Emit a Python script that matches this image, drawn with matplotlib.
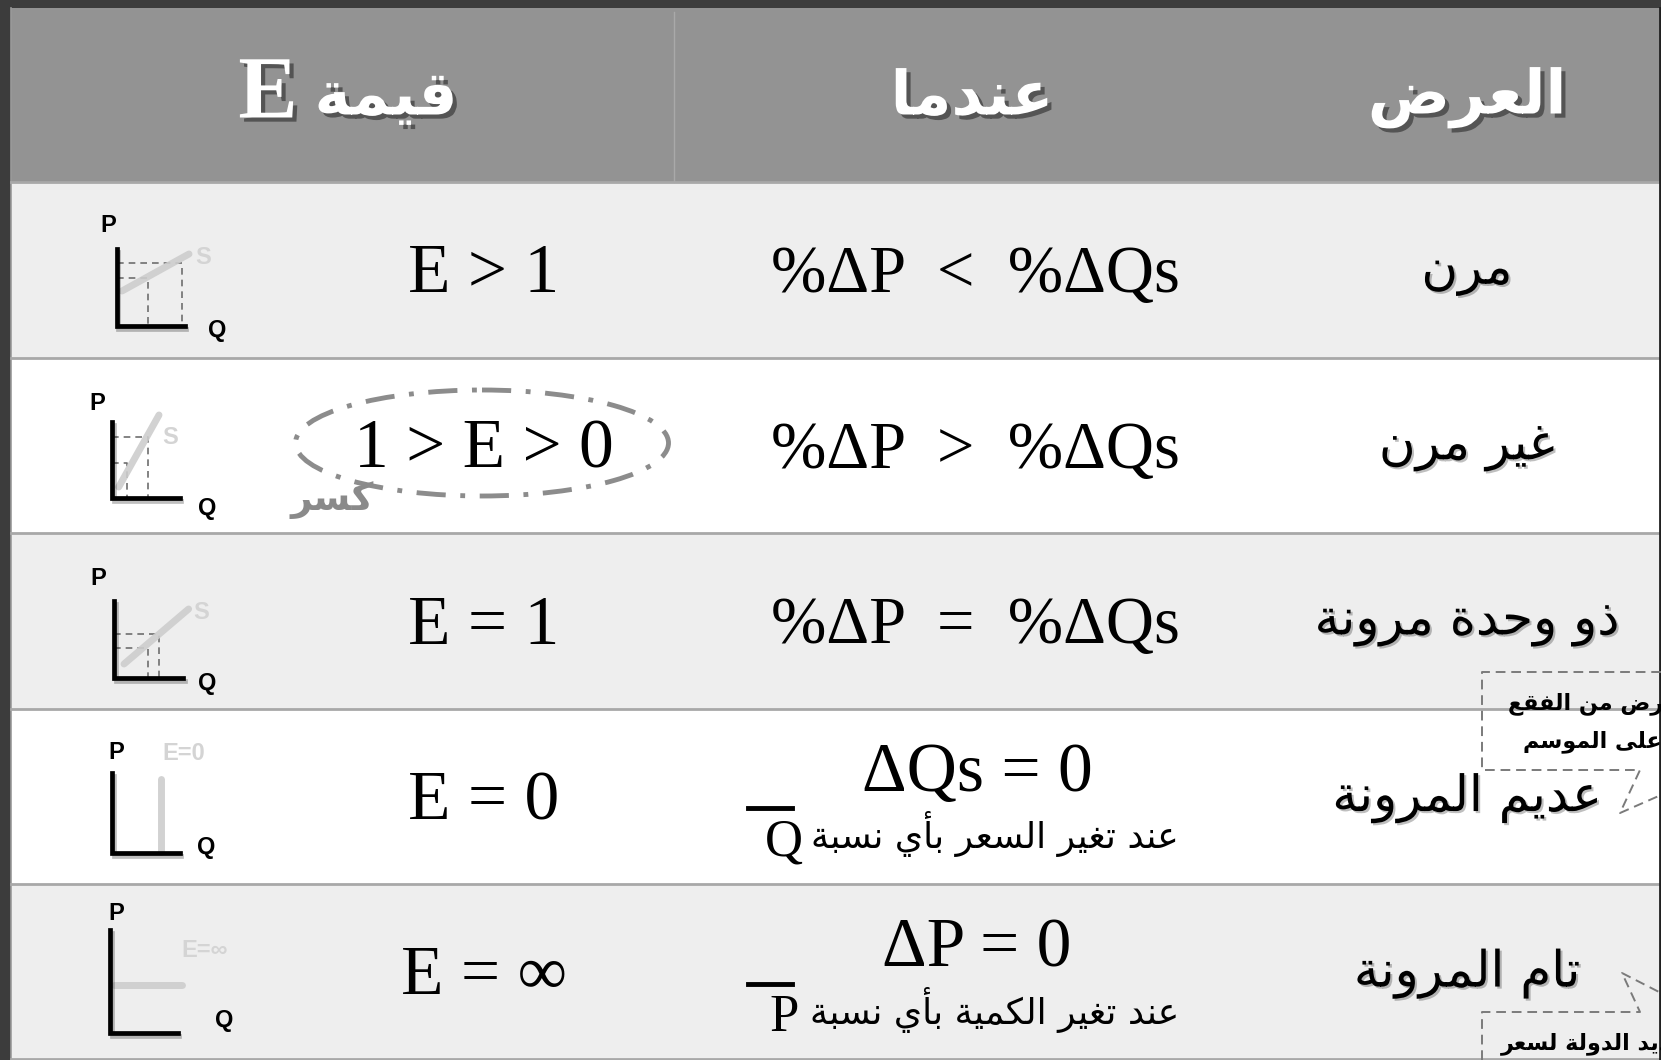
import re

import matplotlib.pyplot as plt
import matplotlib.patheffects as pe
from matplotlib.patches import Rectangle, Ellipse

# ---- data -------------------------------------------------------------
header_supply = "العرض"
header_when = "عندما"
header_value = "قيمة"
header_value_symbol = "E"

supply_types = ["مرن", "غير مرن", "ذو وحدة مرونة", "عديم المرونة", "تام المرونة"]
conditions = ["%ΔP  <  %ΔQs", "%ΔP  >  %ΔQs", "%ΔP  =  %ΔQs", "ΔQs = 0", "ΔP = 0"]
condition_notes = [None, None, None, "عند تغير السعر بأي نسبة", "عند تغير الكمية بأي نسبة"]
note_symbols = [None, None, None, "Q", "P"]
e_values = ["E > 1", "1 > E > 0", "E = 1", "E = 0", "E = ∞"]
icon_kinds = ["elastic", "inelastic", "unit", "zero", "infinite"]
fraction_label = "كسر"
callout_top = ["العرض من الفقع", "يعتمد على الموسم"]
callout_bottom = "تحديد الدولة لسعر"

# ---- tiny arabic shaper (matplotlib has no bidi / joining) -----------
AR_LETTERS = "ءآأؤإئابةتثجحخدذرزسشصضطظعغفقكلمنهوىي"
FORM_COUNT = [1, 2, 2, 2, 2, 4, 2, 4, 2, 4, 4, 4, 4, 4, 2, 2, 2, 2,
              4, 4, 4, 4, 4, 4, 4, 4, 4, 4, 4, 4, 4, 4, 4, 2, 2, 4]
FORMS = {}
_code = 0xFE80
for _ch, _n in zip(AR_LETTERS, FORM_COUNT):
    FORMS[_ch] = (_code, _n)
    _code += _n


def ar(text):
    out = []
    for i, ch in enumerate(text):
        if ch not in FORMS:
            out.append(ch)
            continue
        base, n = FORMS[ch]
        prev = text[i - 1] if i > 0 else ""
        nxt = text[i + 1] if i + 1 < len(text) else ""
        join_prev = prev in FORMS and FORMS[prev][1] == 4
        join_next = n == 4 and nxt in FORMS
        if n == 1:
            idx = 0
        elif join_prev and join_next:
            idx = 3
        elif join_prev:
            idx = 1
        elif join_next:
            idx = 2
        else:
            idx = 0
        out.append(chr(base + idx))
    visual = "".join(out)[::-1]
    return re.sub(r"[A-Za-z0-9%=<>Δ.]+", lambda m: m.group(0)[::-1], visual)


# ---- layout -------------------------------------------------------------
W, H = 1661, 1060
fig = plt.figure(figsize=(W / 100, H / 100), dpi=100, facecolor="#3c3c3c")
ax = fig.add_axes([0, 0, 1, 1])
ax.set_xlim(0, W)
ax.set_ylim(H, 0)
ax.axis("off")

left = 10.5
top = 8
header_h = 174
row_h = 175.5
col_e = 484
col_cond = 975
col_type = 1467

serif = ["Liberation Serif", "DejaVu Sans"]
arabic = ["DejaVu Sans"]
sans = ["Liberation Sans"]
shadow_w = [pe.withSimplePatchShadow(offset=(3, -3), shadow_rgbFace="#2a2a2a", alpha=0.6)]
shadow_b = [pe.withSimplePatchShadow(offset=(1.5, -1.5), shadow_rgbFace="#000000", alpha=0.25)]

# header
ax.add_patch(Rectangle((left, top), W - left, header_h, facecolor="#939393", edgecolor="none"))
ax.plot([674, 674], [top + 4, top + header_h], color="#a9a9a9", lw=1)
ax.plot([left, left], [top, H], color="#9a9a9a", lw=1.2)
hy = top + header_h / 2 + 3
ax.text(col_type, hy, ar(header_supply), ha="center", va="center", fontsize=44,
        fontweight="bold", family=arabic, color="white", path_effects=shadow_w)
ax.text(col_cond - 3, hy, ar(header_when), ha="center", va="center", fontsize=44,
        fontweight="bold", family=arabic, color="white", path_effects=shadow_w)
ax.text(386, hy, ar(header_value), ha="center", va="center", fontsize=44,
        fontweight="bold", family=arabic, color="white", path_effects=shadow_w)
ax.text(268, hy - 2, header_value_symbol, ha="center", va="center", fontsize=64,
        fontweight="bold", family=serif, color="white", path_effects=shadow_w)

# body rows
for i in range(len(supply_types)):
    y0 = top + header_h + i * row_h
    yc = y0 + row_h / 2
    face = "#eeeeee" if i % 2 == 0 else "#ffffff"
    ax.add_patch(Rectangle((left, y0), W - left, row_h, facecolor=face, edgecolor="none"))
    ax.plot([left, W], [y0, y0], color="#a8a8a8", lw=2)

    ax.text(col_type, yc + 2, ar(supply_types[i]), ha="center", va="center", fontsize=36,
            family=arabic, color="black", path_effects=shadow_b)
    ax.text(col_e, yc + 6, e_values[i], ha="center", va="center", fontsize=50,
            family=serif, color="black")

    if condition_notes[i] is None:
        ax.text(col_cond, yc + 6, conditions[i], ha="center", va="center", fontsize=48,
                family=serif, color="black")
    else:
        ax.text(col_cond + 2, yc - 22, conditions[i], ha="center", va="center", fontsize=50,
                family=serif, color="black")
        ax.text(1179, yc + 38, ar(condition_notes[i]), ha="right", va="center", fontsize=26,
                family=arabic, color="black")
        # symbol with a bar over it (Q̄ / P̄)
        ax.text(784, yc + 46, note_symbols[i], ha="center", va="center", fontsize=38,
                family=serif, color="black")
        ax.plot([748, 792], [yc + 12, yc + 12], color="black", lw=3.5)

ax.plot([left, W], [H - 1, H - 1], color="#a8a8a8", lw=2)
ax.plot([W - 1.5, W - 1.5], [top, H], color="#202020", lw=2)


# ---- small supply diagrams ----------------------------------------------
def axes_l(cx, cy, ytop, xend, p_xy, q_xy):
    ax.plot([cx, cx, xend], [ytop, cy, cy], color="black", lw=3.4,
            solid_joinstyle="miter",
            path_effects=[pe.SimpleLineShadow(offset=(1, -2), alpha=0.25), pe.Normal()])
    ax.text(*p_xy, "P", ha="center", va="center", fontsize=17, fontweight="bold",
            family=sans, color="black")
    ax.text(*q_xy, "Q", ha="center", va="center", fontsize=17, fontweight="bold",
            family=sans, color="black")


def dashed(xs, ys):
    ax.plot(xs, ys, color="#6e6e6e", lw=1.2, ls=(0, (4, 3)))


def supply(xs, ys, label_xy=None, label="S"):
    ax.plot(xs, ys, color="#cdcdcd", lw=5, solid_capstyle="round", alpha=0.9)
    if label_xy is not None:
        ax.text(*label_xy, label, ha="center", va="center", fontsize=17, fontweight="bold",
                family=sans, color="#d4d4d4")


def draw_icon(kind):
    if kind == "elastic":
        dashed([116.5, 182, 182], [263, 263, 326])
        dashed([116.5, 148, 148], [278, 278, 326])
        supply([122, 189], [291, 254], (203, 257))
        axes_l(116.5, 326, 249, 185, (108, 225), (217, 331))
    elif kind == "inelastic":
        dashed([112.3, 148, 148], [437, 437, 498])
        dashed([112.3, 127, 127], [463, 463, 498])
        supply([118.7, 159], [487, 415], (170, 438))
        axes_l(112.3, 498, 422, 180, (97.5, 403), (207.6, 508.5))
    elif kind == "unit":
        dashed([114.4, 159, 159], [633.5, 633.5, 678])
        dashed([114.4, 148, 148], [648.4, 648.4, 678])
        supply([124, 188.6], [664, 609], (201.3, 612.3))
        axes_l(114.4, 678, 601, 183.3, (98.5, 578.4), (207.6, 683.3))
    elif kind == "zero":
        supply([161, 161], [779, 852], (183.3, 753.2), "E=0")
        axes_l(112.3, 852.8, 773.4, 180, (116.5, 752.2), (206.6, 847.5))
    elif kind == "infinite":
        supply([114.4, 182], [985, 985], (204.5, 950.3), "E=∞")
        axes_l(110.2, 1033, 930, 178, (116.5, 913.2), (224.6, 1020))


for kind in icon_kinds:
    draw_icon(kind)

# ---- highlight on the fraction case ------------------------------------
ax.add_patch(Ellipse((482, 443), 373, 106, facecolor="none", edgecolor="#8c8c8c", lw=3.5,
                     ls=(0, (6, 3, 1, 3))))
ax.text(332, 500, ar(fraction_label), ha="center", va="center", fontsize=27, fontweight="bold",
        family=arabic, color="#8a8a8a")

# ---- callouts cut at the right edge -------------------------------------
co = dict(color="#7a7a7a", lw=1.4, ls=(0, (5, 3)))
ax.plot([W, 1482, 1482, 1640, 1620, W], [672, 672, 770, 770, 813, 795], **co)
ax.plot([1482, 1482, 1640, 1622, W], [H, 1012, 1012, 973, 993], **co)
ax.text(1508, 704, ar(callout_top[0]), ha="left", va="center", fontsize=16, fontweight="bold",
        family=arabic, color="black")
ax.text(1523, 742, ar(callout_top[1]), ha="left", va="center", fontsize=16, fontweight="bold",
        family=arabic, color="black")
ax.text(1501, 1044, ar(callout_bottom), ha="left", va="center", fontsize=16, fontweight="bold",
        family=arabic, color="black")

fig.savefig("out.png", dpi=100, facecolor=fig.get_facecolor())
